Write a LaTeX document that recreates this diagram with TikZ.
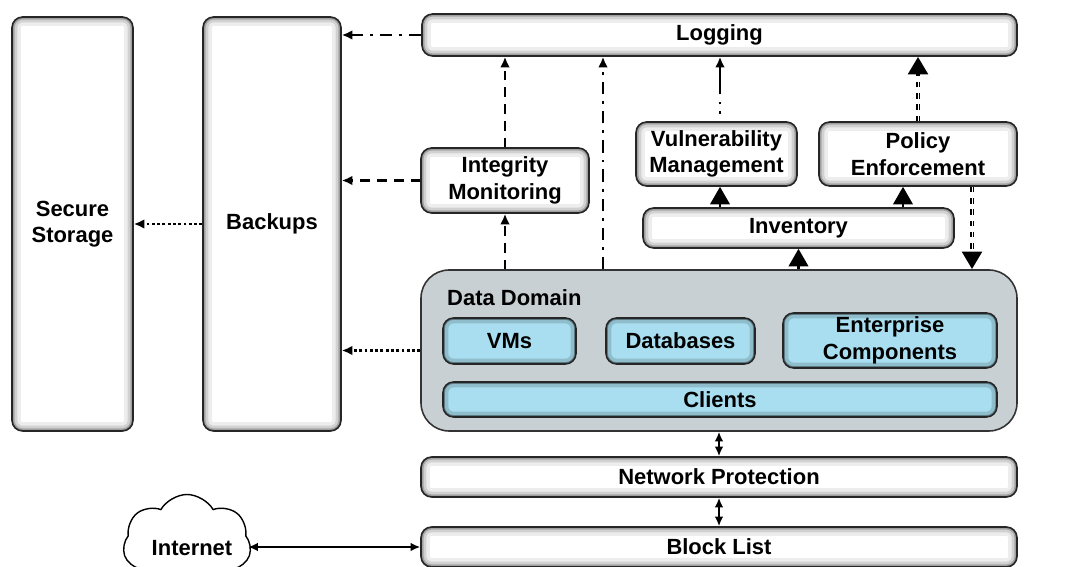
\documentclass[tikz,border=0pt]{standalone}
\usepackage{fontspec}
\setmainfont{Liberation Sans}
\usetikzlibrary{arrows.meta,shapes.symbols}

\definecolor{domaingray}{RGB}{200,208,212}
\definecolor{partblue}{RGB}{168,222,240}

\tikzset{
  shadebox/.style={draw=black!85, line width=0.9pt, rounded corners=6pt, fill=white, align=center,
    font=\bfseries\fontsize{12.5}{15}\selectfont, inner sep=2pt,
    path picture={
      \draw[black!7, line width=10pt] (path picture bounding box.south west) rectangle (path picture bounding box.north east);
      \draw[black!18, line width=6pt] (path picture bounding box.south west) rectangle (path picture bounding box.north east);
      \draw[black!35, line width=3pt] (path picture bounding box.south west) rectangle (path picture bounding box.north east);
      \draw[black!55, line width=1.2pt] (path picture bounding box.south west) rectangle (path picture bounding box.north east);}},
  partbox/.style={shadebox, fill=partblue,
    path picture={
      \draw[partblue!85!black, line width=6pt] (path picture bounding box.south west) rectangle (path picture bounding box.north east);
      \draw[partblue!55!black, line width=2pt] (path picture bounding box.south west) rectangle (path picture bounding box.north east);}},
  domainbox/.style={draw=black!80, line width=0.9pt, rounded corners=16pt, fill=domaingray},
  flow/.style={line width=1.6pt, -{Latex[length=6pt,width=5.5pt]}},
  twoway/.style={line width=1.4pt, {Latex[length=5.5pt,width=5pt]}-{Latex[length=5.5pt,width=5pt]}},
  bigflow/.style={line width=1.6pt, -{Triangle[length=10pt,width=11pt]}},
  dashdot/.style={dash pattern=on 7pt off 4pt on 1.6pt off 4pt},
  longdash/.style={dash pattern=on 5.5pt off 4pt},
  dotline/.style={dash pattern=on 1.6pt off 1.4pt},
  stripes/.style={line width=2.4pt, dash pattern=on 3.2pt off 3.2pt,
    postaction={draw=white, solid, line width=0.5pt, -, shorten >=11pt}},
}

\begin{document}
\begin{tikzpicture}
\useasboundingbox (0,0) rectangle (21.38,11.34);

% storage columns
\node[shadebox, minimum width=2.42cm, minimum height=8.28cm] (store) at (1.45,6.86) {Secure\\Storage};
\node[shadebox, minimum width=2.76cm, minimum height=8.28cm] (backups) at (5.44,6.86) {Backups};

% monitoring layer
\node[shadebox, minimum width=11.9cm, minimum height=0.84cm] (logging) at (14.39,10.64) {Logging};
\node[shadebox, minimum width=3.36cm, minimum height=1.30cm] (integrity) at (10.10,7.73) {Integrity\\Monitoring};
\node[shadebox, minimum width=3.22cm, minimum height=1.28cm] (vuln) at (14.33,8.26) {Vulnerability\\Management};
\node[shadebox, minimum width=3.96cm, minimum height=1.28cm] (policy) at (18.36,8.26) {Policy\\Enforcement};
\node[shadebox, minimum width=6.22cm, minimum height=0.80cm] (inventory) at (15.97,6.78) {Inventory};

% data domain
\node[domainbox, minimum width=11.92cm, minimum height=3.22cm] (domain) at (14.38,4.33) {};
\node[anchor=west, font=\bfseries\fontsize{12.5}{15}\selectfont] (domainlabel) at (8.82,5.38) {Data Domain};
\node[partbox, minimum width=2.66cm, minimum height=0.92cm] (vms) at (10.19,4.52) {VMs};
\node[partbox, minimum width=2.98cm, minimum height=0.92cm] (databases) at (13.61,4.52) {Databases};
\node[partbox, minimum width=4.28cm, minimum height=1.10cm] (enterprise) at (17.80,4.53) {Enterprise\\Components};
\node[partbox, minimum width=11.08cm, minimum height=0.70cm] (clients) at (14.40,3.35) {Clients};

% perimeter
\node[shadebox, minimum width=11.92cm, minimum height=0.80cm] (network) at (14.38,1.80) {Network Protection};
\node[shadebox, minimum width=11.92cm, minimum height=0.80cm] (blocklist) at (14.38,0.40) {Block List};
\node[cloud, cloud puffs=7, cloud puff arc=120, aspect=1.4, draw, line width=0.8pt, fill=white,
      minimum width=2.56cm, minimum height=2.0cm, inner sep=0pt,
      font=\bfseries\fontsize{12.5}{15}\selectfont] (internet) at (3.74,0.45) {};
\node[font=\bfseries\fontsize{12.5}{15}\selectfont] (internettext) at (3.84,0.38) {Internet};

% into backups
\draw[flow, dashdot] (logging.west) -- (logging.west -| backups.east);
\draw[flow, longdash] (integrity.west) -- (integrity.west -| backups.east);
\draw[flow, dotline] (domain.west) -- (domain.west -| backups.east);
\draw[flow, dotline] (backups.west) -- (store.east);

% up to logging
\draw[flow, longdash] (integrity.south |- domain.north) -- (integrity.south);
\draw[flow, longdash] (integrity.north) -- (integrity.north |- logging.south);
\draw[flow, dashdot] (12.06,0 |- domain.north) -- (12.06,0 |- logging.south);
\draw[flow, dash pattern=on 0pt off 4pt on 1.6pt off 4pt on 1.6pt off 4pt on 40pt off 4pt]
  ([xshift=0.07cm]vuln.north) -- ([xshift=0.07cm]vuln.north |- logging.south);
\draw[bigflow, stripes] (policy.north) -- (policy.north |- logging.south);
\draw[bigflow, stripes] ([xshift=1.08cm]policy.south) -- ([xshift=1.08cm]policy.south |- domain.north);

% inventory
\draw[bigflow] ([xshift=0.07cm]vuln.south |- inventory.north) -- ([xshift=0.07cm]vuln.south);
\draw[bigflow] ([xshift=-0.30cm]policy.south |- inventory.north) -- ([xshift=-0.30cm]policy.south);
\draw[bigflow] (inventory.south |- domain.north) -- (inventory.south);

% network path
\draw[twoway] (domain.south) -- (network.north);
\draw[twoway] (network.south) -- (blocklist.north);
\draw[twoway] ([xshift=-0.05cm]internet.east |- blocklist.west) -- (blocklist.west);
\end{tikzpicture}
\end{document}
